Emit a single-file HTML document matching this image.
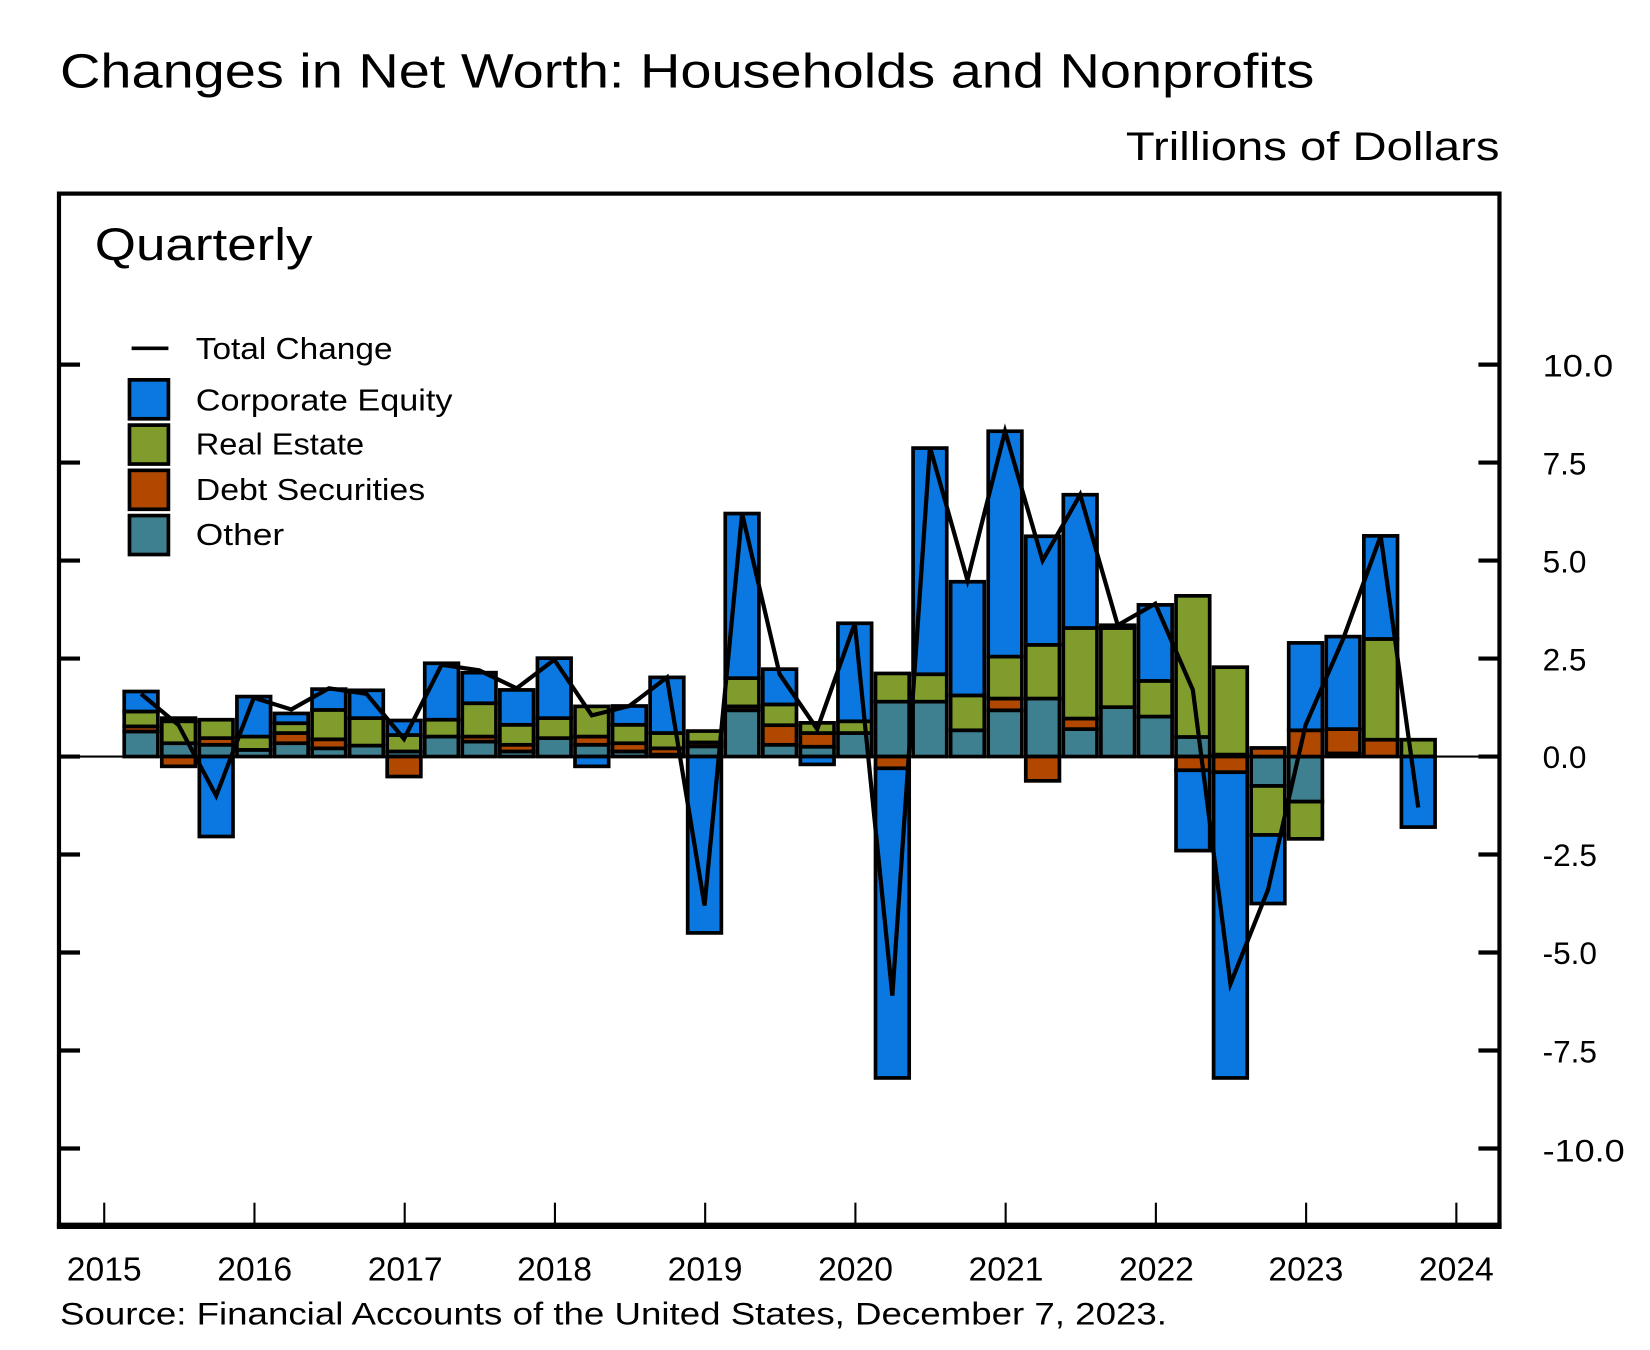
<!DOCTYPE html>
<html><head><meta charset="utf-8"><style>
html,body{margin:0;padding:0;background:#fff;}
svg{display:block;}
text{font-family:"Liberation Sans",sans-serif;fill:#000;}
</style></head><body>
<svg id="s" width="1650" height="1350" viewBox="0 0 1568 1283" xmlns="http://www.w3.org/2000/svg">
<rect width="1568" height="1283" fill="#fff"/>
<text x="57" y="83" font-size="46" textLength="1192" lengthAdjust="spacingAndGlyphs">Changes in Net Worth: Households and Nonprofits</text>
<text x="1070" y="152" font-size="38" textLength="355" lengthAdjust="spacingAndGlyphs">Trillions of Dollars</text>
<text x="90" y="247" font-size="43" textLength="207" lengthAdjust="spacingAndGlyphs">Quarterly</text>
<line x1="125" y1="331" x2="160" y2="331" stroke="#000" stroke-width="3.5"/>
<text x="186" y="341" font-size="29" textLength="187" lengthAdjust="spacingAndGlyphs">Total Change</text>
<rect x="123" y="361" width="37" height="37" fill="#0a78e0" stroke="#000" stroke-width="3.5"/>
<text x="186" y="390" font-size="29" textLength="244" lengthAdjust="spacingAndGlyphs">Corporate Equity</text>
<rect x="123" y="404" width="37" height="37" fill="#809c2c" stroke="#000" stroke-width="3.5"/>
<text x="186" y="432" font-size="29" textLength="160" lengthAdjust="spacingAndGlyphs">Real Estate</text>
<rect x="123" y="447" width="37" height="37" fill="#b04800" stroke="#000" stroke-width="3.5"/>
<text x="186" y="475" font-size="29" textLength="218" lengthAdjust="spacingAndGlyphs">Debt Securities</text>
<rect x="123" y="490" width="37" height="37" fill="#3f8090" stroke="#000" stroke-width="3.5"/>
<text x="186" y="518" font-size="29" textLength="84" lengthAdjust="spacingAndGlyphs">Other</text>
<g id="bars"></g>
<line x1="55" y1="719" x2="1425" y2="719" stroke="#000" stroke-width="2"/>
<polyline id="tl" fill="none" stroke="#000" stroke-width="4" stroke-linejoin="miter"/>
<rect x="56" y="184" width="1369" height="981" fill="none" stroke="#000" stroke-width="4"/>
<line x1="54" y1="1165" x2="1427" y2="1165" stroke="#000" stroke-width="6"/>
<g id="ticks" stroke="#000"></g>
<g font-size="30">
<text x="1466" y="358" textLength="67" lengthAdjust="spacingAndGlyphs">10.0</text>
<text x="1466" y="451">7.5</text>
<text x="1466" y="544">5.0</text>
<text x="1466" y="637">2.5</text>
<text x="1466" y="730">0.0</text>
<text x="1466" y="823">-2.5</text>
<text x="1466" y="916">-5.0</text>
<text x="1466" y="1010">-7.5</text>
<text x="1466" y="1104" textLength="78" lengthAdjust="spacingAndGlyphs">-10.0</text>
</g>
<g font-size="32" text-anchor="middle">
<text x="99" y="1217">2015</text><text x="242" y="1217">2016</text><text x="385" y="1217">2017</text>
<text x="527" y="1217">2018</text><text x="670" y="1217">2019</text><text x="813" y="1217">2020</text>
<text x="956" y="1217">2021</text><text x="1099" y="1217">2022</text><text x="1241" y="1217">2023</text>
<text x="1384" y="1217">2024</text>
</g>
<text x="57" y="1259" font-size="30" textLength="1052" lengthAdjust="spacingAndGlyphs">Source: Financial Accounts of the United States, December 7, 2023.</text>
</svg>
<script>
var NS="http://www.w3.org/2000/svg";
function el(t,a,p){var e=document.createElementNS(NS,t);for(var k in a)e.setAttribute(k,a[k]);p.appendChild(e);return e;}
var Y0=719,K=37.25;
var d=[[.64,.13,.38,.51],[.34,-.25,.56,.08],[.3,.17,.47,-2.04],[.17,0,.34,1.02],[.34,.26,.25,.25],[.21,.23,.75,.53],[.28,0,.7,.71],[.13,-.51,.42,.37],[.51,0,.43,1.44],[.38,.13,.85,.78],[.13,.17,.51,.89],[.47,0,.51,1.53],[.3,.21,.77,-.25],[.13,.21,.47,.48],[.05,.16,.39,1.42],[.26,.1,.29,-4.5],[1.18,.1,.72,4.2],[.3,.5,.53,.9],[.25,.35,.26,-.2],[.6,0,.3,2.5],[1.4,-.3,.72,-7.9],[1.4,0,.7,5.77],[.67,0,.89,2.9],[1.18,.3,1.07,5.75],[1.48,-.62,1.37,2.77],[.7,.27,2.31,3.4],[1.26,0,2.02,.07],[1.02,0,.91,1.94],[.5,-.35,3.6,-2.05],[.05,-.4,2.23,-7.8],[-.75,.22,-1.25,-1.75],[-1.15,.67,-.95,2.23],[.08,.62,0,2.36],[0,.43,2.57,2.63],[0,0,.43,-1.8]];
var tot=[1.6,.8,-1.0,1.5,1.2,1.74,1.6,.45,2.34,2.2,1.74,2.47,1.05,1.29,2.02,-3.8,6.2,2.1,.7,3.4,-6.1,7.9,4.5,8.3,5.0,6.68,3.35,3.9,1.7,-5.8,-3.4,.8,3.0,5.63,-1.3];
var col=["#3f8090","#b04800","#809c2c","#0a78e0"];
var g=document.getElementById("bars"),pts=[];
for(var i=0;i<d.length;i++){
 var cx=134+i*35.7,w=32,pos=0,neg=0;
 for(var j=0;j<4;j++){var v=d[i][j];if(!v)continue;var a,b;
  if(v>0){a=pos;pos+=v;b=pos;}else{a=neg;neg+=v;b=neg;}
  var y1=Y0-Math.max(a,b)*K,y2=Y0-Math.min(a,b)*K;
  el("rect",{x:cx-w/2,y:y1,width:w,height:y2-y1,fill:col[j],stroke:"#000","stroke-width":3.5},g);}
 pts.push(cx+","+(Y0-tot[i]*K));
}
document.getElementById("tl").setAttribute("points",pts.join(" "));
var t=document.getElementById("ticks");
for(var k=-4;k<=4;k++){var y=Y0-k*2.5*K;
 el("line",{x1:56,y1:y,x2:76,y2:y,"stroke-width":4},t);
 el("line",{x1:1405,y1:y,x2:1425,y2:y,"stroke-width":4},t);}
for(var k=0;k<10;k++){var x=99+k*142.78;el("line",{x1:x,y1:1143,x2:x,y2:1165,"stroke-width":2},t);}
</script>
</body></html>
